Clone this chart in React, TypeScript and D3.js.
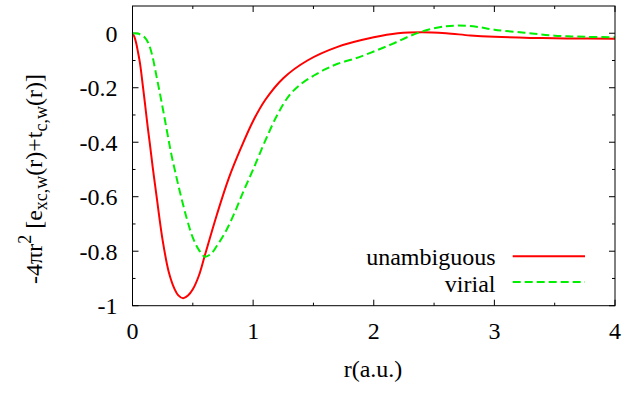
import React from "react";
import * as d3 from "d3";

// r grid and values for the "unambiguous" curve
const rUnamb = [0, 0.015, 0.03, 0.045, 0.062, 0.085, 0.104, 0.125, 0.145, 0.17, 0.2, 0.25, 0.3, 0.35, 0.38, 0.42, 0.46, 0.5, 0.55, 0.6, 0.7, 0.8, 0.9, 1.0, 1.1, 1.25, 1.45, 1.7, 2.0, 2.2, 2.4, 2.6, 2.8, 3.0, 3.3, 3.6, 4.0];
const vUnamb = [0, -0.012, -0.035, -0.068, -0.11, -0.19, -0.26, -0.34, -0.41, -0.5, -0.6, -0.76, -0.875, -0.94, -0.962, -0.973, -0.963, -0.94, -0.89, -0.815, -0.665, -0.53, -0.42, -0.322, -0.245, -0.165, -0.1, -0.05, -0.015, 0.0, 0.004, 0.0, -0.008, -0.013, -0.017, -0.019, -0.02];

// r grid and values for the "virial" curve
const rVirial = [0, 0.05, 0.1, 0.13, 0.16, 0.2, 0.24, 0.28, 0.32, 0.36, 0.4, 0.45, 0.5, 0.55, 0.6, 0.65, 0.7, 0.77, 0.85, 0.92, 1.0, 1.1, 1.2, 1.3, 1.4, 1.5, 1.6, 1.7, 1.85, 2.0, 2.15, 2.3, 2.45, 2.6, 2.7, 2.85, 3.0, 3.25, 3.5, 3.75, 4.0];
const vVirial = [0, -0.002, -0.015, -0.035, -0.075, -0.16, -0.25, -0.345, -0.44, -0.52, -0.595, -0.68, -0.75, -0.795, -0.82, -0.81, -0.78, -0.73, -0.655, -0.58, -0.5, -0.395, -0.3, -0.228, -0.185, -0.156, -0.132, -0.112, -0.092, -0.067, -0.04, -0.01, 0.013, 0.026, 0.028, 0.024, 0.013, 0.002, -0.009, -0.013, -0.015];

const xMajorTicks = [0, 1, 2, 3, 4];
const xMinorTicks = [0.5, 1.5, 2.5, 3.5];
const yMajorTicks = [-1, -0.8, -0.6, -0.4, -0.2, 0];
const yMinorTicks = [-0.9, -0.7, -0.5, -0.3, -0.1];

const seriesNames = ["unambiguous", "virial"];

const W = 628;
const H = 395;
const FONT = "'Liberation Serif', 'Times New Roman', serif";

export default function App() {
  const x = d3.scaleLinear().domain([0, 4]).range([132.5, 615]);
  const y = d3.scaleLinear().domain([-1, 0.1]).range([305.7, 6]);
  const [x0, x1] = x.range();
  const [yb, yt] = y.range();

  const line = d3
    .line<[number, number]>()
    .x((d) => x(d[0]))
    .y((d) => y(d[1]))
    .curve(d3.curveCatmullRom.alpha(0.5));

  const unamb = line(rUnamb.map((r, i) => [r, vUnamb[i]] as [number, number])) || "";
  const virial = line(rVirial.map((r, i) => [r, vVirial[i]] as [number, number])) || "";

  const major = 6;
  const minor = 3;

  const fmtY = (v: number) => (v === 0 ? "0" : v === -1 ? "-1" : d3.format(".1f")(v).replace("\u2212", "-"));

  return (
    <svg
      width={W}
      height={H}
      style={{ position: "absolute", left: 0, top: 0, background: "#fff" }}
      fontFamily={FONT}
    >
      <defs>
        <clipPath id="plotArea">
          <rect x={x0} y={yt} width={x1 - x0} height={yb - yt} />
        </clipPath>
      </defs>

      {/* ticks on all four sides */}
      <g stroke="#000" strokeWidth={1}>
        {xMajorTicks.map((t) => (
          <g key={"xM" + t}>
            <line x1={x(t)} x2={x(t)} y1={yb} y2={yb - major} />
            <line x1={x(t)} x2={x(t)} y1={yt} y2={yt + major} />
          </g>
        ))}
        {xMinorTicks.map((t) => (
          <g key={"xm" + t}>
            <line x1={x(t)} x2={x(t)} y1={yb} y2={yb - minor} />
            <line x1={x(t)} x2={x(t)} y1={yt} y2={yt + minor} />
          </g>
        ))}
        {yMajorTicks.map((t) => (
          <g key={"yM" + t}>
            <line x1={x0} x2={x0 + major} y1={y(t)} y2={y(t)} />
            <line x1={x1} x2={x1 - major} y1={y(t)} y2={y(t)} />
          </g>
        ))}
        {yMinorTicks.map((t) => (
          <g key={"ym" + t}>
            <line x1={x0} x2={x0 + minor} y1={y(t)} y2={y(t)} />
            <line x1={x1} x2={x1 - minor} y1={y(t)} y2={y(t)} />
          </g>
        ))}
      </g>

      {/* curves */}
      <g clipPath="url(#plotArea)" fill="none" strokeWidth={2}>
        <path d={unamb} stroke="#ff0000" />
        <path d={virial} stroke="#00ee00" strokeDasharray="8,4" />
      </g>

      {/* frame */}
      <rect x={x0} y={yt} width={x1 - x0} height={yb - yt} fill="none" stroke="#000" strokeWidth={1} />

      {/* tick labels */}
      <g fontSize={24} fill="#000">
        {xMajorTicks.map((t) => (
          <text key={"xl" + t} x={x(t)} y={338.5} textAnchor="middle">
            {t}
          </text>
        ))}
        {yMajorTicks.map((t) => (
          <text key={"yl" + t} x={117.5} y={y(t) + 8.5} textAnchor="end">
            {fmtY(t)}
          </text>
        ))}
      </g>

      {/* axis titles */}
      <text x={373} y={377} fontSize={24} textAnchor="middle">
        r(a.u.)
      </text>
      <text transform="translate(42,179) rotate(-90)" fontSize={24} textAnchor="middle">
        <tspan>-4πr</tspan>
        <tspan fontSize={18} dy={-11}>2</tspan>
        <tspan dy={11}> [e</tspan>
        <tspan fontSize={18} dy={5}>xc,w</tspan>
        <tspan dy={-5}>(r)+t</tspan>
        <tspan fontSize={18} dy={5}>c,w</tspan>
        <tspan dy={-5}>(r)]</tspan>
      </text>

      {/* legend */}
      <g fontSize={24}>
        <text x={495.5} y={265} textAnchor="end">{seriesNames[0]}</text>
        <line x1={512.7} x2={585} y1={256.3} y2={256.3} stroke="#ff0000" strokeWidth={2} />
        <text x={495.5} y={291.5} textAnchor="end">{seriesNames[1]}</text>
        <line x1={512.7} x2={585} y1={282} y2={282} stroke="#00ee00" strokeWidth={2} strokeDasharray="8,4" />
      </g>
    </svg>
  );
}
